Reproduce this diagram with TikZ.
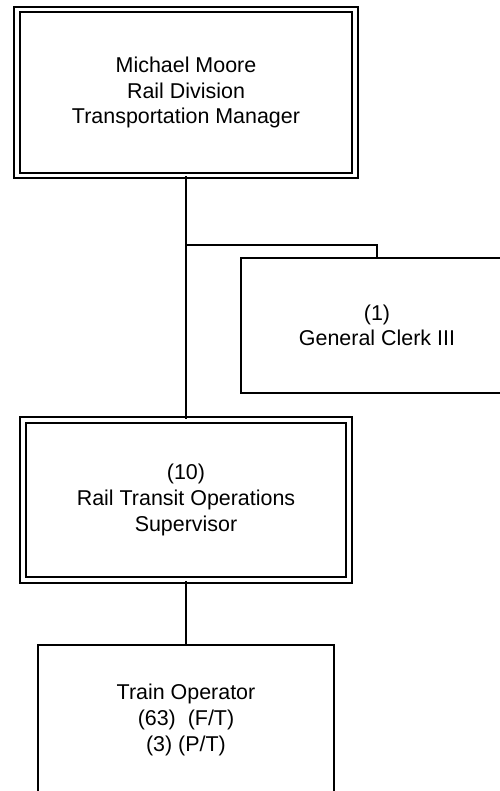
\documentclass[tikz,border=0pt]{standalone}
\usepackage{fontspec}
\setmainfont{Liberation Sans}

\begin{document}
\begin{tikzpicture}[line width=0.9pt,
		post/.style={draw, align=center, inner sep=0pt,
			font=\fontsize{12.2}{14.6}\selectfont},
		lead/.style={post, line width=1pt, double, double distance=2pt}]
	% Fix the frame of the page.
	\useasboundingbox (0,0) rectangle (10,15.82);

	% The manager and the clerk beside him.
	\node[lead, minimum width=6.76cm, minimum height=3.32cm] (mgr) at (3.72,13.97)
		{Michael Moore\\Rail Division\\Transportation Manager};
	\node[post, minimum width=5.44cm, minimum height=2.70cm] (clerk) at (7.54,9.31)
		{(1)\\General Clerk III};

	% The supervisors and the operators under them.
	\node[lead, minimum width=6.52cm, minimum height=3.20cm] (sup) at (3.72,5.82)
		{(10)\\Rail Transit Operations\\Supervisor};
	\node[post, minimum width=5.92cm, minimum height=3.00cm] (oper) at (3.72,1.42)
		{Train Operator\\(63)~~(F/T)\\(3) (P/T)};

	% Lines of report.
	\coordinate (tee) at (mgr.south |- 0,10.92);
	\draw (mgr.south) -- (sup.north);
	\draw (tee) -| (clerk.north);
	\draw (sup.south) -- (oper.north);
\end{tikzpicture}
\end{document}
